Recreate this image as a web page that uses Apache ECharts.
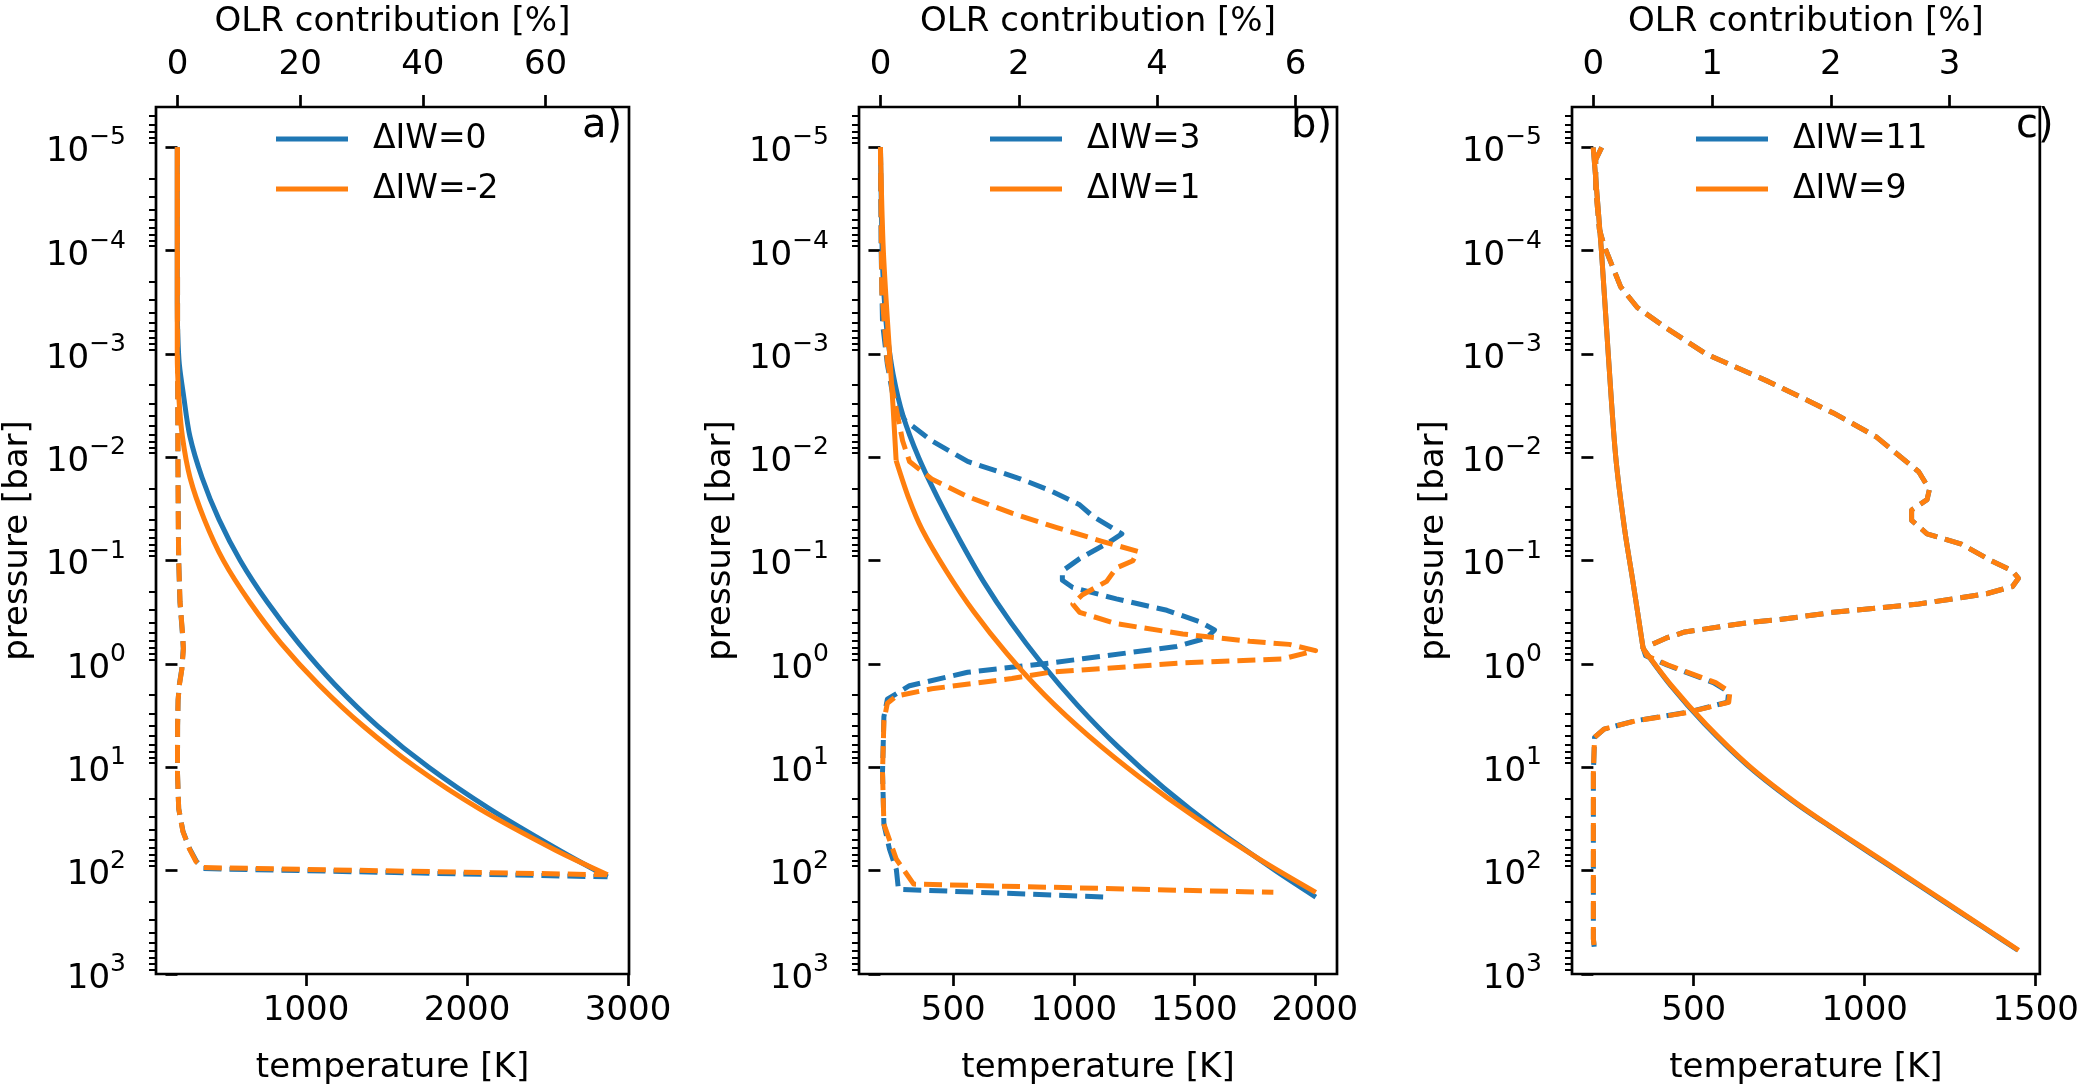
<!DOCTYPE html>
<html><head><meta charset="utf-8">
<script src="https://cdn.jsdelivr.net/npm/echarts@6/dist/echarts.min.js"></script>
<style>html,body{margin:0;padding:0;background:#fff}#c{width:2082px;height:1090px}</style>
</head><body><div id="c"></div>
<script>
const FONT = 'DejaVu Sans';
const BLUE = '#1f77b4', ORANGE = '#ff7f0e';

// ---------- tick labels ----------
const pTicks = [1e-5,1e-4,1e-3,1e-2,1e-1,1,10,100,1000];
const aTempTicks = [1000,2000,3000];
const aOlrTicks = [0,20,40,60];
const bTempTicks = [500,1000,1500,2000];
const bOlrTicks = [0,2,4,6];
const cTempTicks = [500,1000,1500];
const cOlrTicks = [0,1,2,3];

// ---------- panel a ----------
const aNames = ['ΔIW=0','ΔIW=-2'];
const aT_blue_P = [1e-5,3.162e-4,6.31e-4,1.259e-3,2.512e-3,6.31e-3,1.585e-2,3.981e-2,0.1,0.2512,0.631,1.585,3.981,10,25.12,63.1,114.8];
const aT_blue   = [200,200,203,213,239,279,355,459,592,759,955,1180,1445,1762,2138,2570,2873];
const aT_orange_P = [1e-5,1e-3,2.512e-3,6.31e-3,1.585e-2,3.981e-2,0.1,0.2512,0.631,1.585,3.981,10,25.12,63.1,109.6];
const aT_orange   = [200,200,209,232,280,368,487,650,845,1080,1355,1682,2075,2547,2873];
const aO_blue_P = [1e-5,1e-3,1e-2,5.012e-2,0.1,0.2512,0.5012,0.7079,1.122,1.585,2.239,3.981,11.22,25.12,41.69,61.66,81.28,95.5,114.8];
const aO_blue   = [0,0.02,0.08,0.15,0.2,0.4,0.8,0.95,0.7,0.3,0.1,0.02,0,0.2,0.9,2.0,3.1,4.2,70.1];
const aO_orange_P = [1e-5,1e-3,1e-2,5.012e-2,0.1,0.2512,0.5012,0.7079,1.122,1.585,2.239,3.981,11.22,25.12,41.69,61.66,81.28,93.3,109.6];
const aO_orange   = [0,0.02,0.07,0.14,0.2,0.42,0.82,0.97,0.72,0.32,0.1,0.02,0,0.2,0.88,1.95,3.0,4.1,70.0];

// ---------- panel b ----------
const bNames = ['ΔIW=3','ΔIW=1'];
const bT_blue_P = [1e-5,1e-4,2.512e-4,6.31e-4,1.585e-3,3.981e-3,1e-2,2.512e-2,6.31e-2,0.1585,0.3981,1,2.512,6.31,15.85,39.81,100,180];
const bT_blue   = [198,205,212,226,251,292,356,437,527,625,739,869,1016,1183,1374,1592,1837,2004];
const bT_orange_P = [1e-5,1e-4,1e-3,3.162e-3,1.072e-2,2.512e-2,5.012e-2,0.1259,0.3162,0.7943,1.995,5.012,12.59,31.62,79.43,162.2];
const bT_orange   = [198,210,236,250,263,316,371,471,587,723,879,1064,1276,1514,1778,2004];
const bT_orange_kink = 4;   // index of the sharp corner (tropopause)
const bO_blue_P = [1e-5,1e-4,5.012e-4,1.259e-3,2.512e-3,4.365e-3,6.918e-3,1.096e-2,1.622e-2,2.089e-2,2.884e-2,3.715e-2,5.495e-2,6.607e-2,9.55e-2,0.1259,0.1549,0.182,0.2344,0.302,0.389,0.4677,0.5623,0.6761,0.7762,0.8913,0.9772,1.202,1.622,2.188,3.236,11.22,35.48,61.66,97.72,151.4,180];
const bO_blue   = [0,0.01,0.03,0.1,0.18,0.35,0.74,1.26,2.03,2.45,2.88,3.07,3.49,3.31,2.88,2.63,2.63,2.78,3.41,4.14,4.61,4.83,4.71,4.28,3.6,2.92,2.45,1.26,0.42,0.1,0.05,0.03,0.05,0.13,0.23,0.26,3.26];
const bO_orange_P = [1e-5,2.512e-4,1.175e-3,2.512e-3,6.918e-3,1.096e-2,1.622e-2,2.399e-2,3.467e-2,4.786e-2,6.457e-2,8.128e-2,0.1,0.1175,0.1585,0.2138,0.263,0.3162,0.4074,0.5129,0.6026,0.6457,0.7413,0.8913,0.9772,1.202,1.38,1.738,2.042,2.399,3.548,11.22,35.48,77.62,134.9,162.2];
const bO_orange   = [0,0.02,0.1,0.19,0.32,0.42,0.74,1.26,1.9,2.55,3.19,3.72,3.65,3.41,3.27,2.92,2.78,2.88,3.41,4.37,5.34,5.91,6.29,5.82,4.37,2.45,1.9,0.74,0.23,0.1,0.05,0.03,0.05,0.23,0.48,5.68];

// ---------- panel c ----------
const cNames = ['ΔIW=11','ΔIW=9'];
const cT_P = [1e-5,1e-4,1e-3,1e-2,5.012e-2,0.1585,0.7079,1.622,3.802,9.55,20.89,38.9,66.07,114.8,199.5,354.8,588.8];
const cT_blue   = [206,230,250,272,298,322,352,433,532,657,787,906,1011,1121,1231,1347,1448];
const cT_orange = [206,230,250,272,298,322,352,435,535,660,790,908,1014,1124,1234,1349,1450];
const cT_kink = 6;
const cO_P = [1e-5,1.318e-5,2.512e-5,6.166e-5,8.913e-5,2.239e-4,3.548e-4,5.37e-4,1e-3,1.862e-3,3.715e-3,6.31e-3,1.38e-2,2.042e-2,2.57e-2,3.236e-2,4.074e-2,5.495e-2,6.918e-2,0.1,0.1259,0.1479,0.1778,0.2089,0.263,0.3162,0.3715,0.3981,0.4898,0.5623,0.7079,0.8318,1.023,1.514,1.862,2.344,2.951,3.548,4.266,5.129,11.22,457.1,588.8];
const cO_blue   = [0.07,0.02,0.02,0.05,0.09,0.23,0.37,0.59,0.95,1.48,2.02,2.38,2.74,2.83,2.81,2.68,2.68,2.81,3.1,3.35,3.53,3.58,3.53,3.31,2.74,2.02,1.57,1.3,0.77,0.61,0.42,0.44,0.62,1.01,1.14,1.13,0.78,0.35,0.09,0.01,0,0,0.01];
const cO_orange = [0.07,0.02,0.02,0.05,0.09,0.23,0.37,0.59,0.95,1.48,2.02,2.38,2.74,2.83,2.81,2.68,2.68,2.81,3.1,3.35,3.53,3.58,3.53,3.31,2.74,2.02,1.57,1.3,0.77,0.61,0.42,0.45,0.63,1.03,1.15,1.14,0.79,0.36,0.09,0.01,0,0,0.01];

// ---------- layout ----------
const PMIN = 4.07e-6, PMAX = 1000;
const panels = [
  {left:152, width:477, tRange:[68,3006], oRange:[-3.5,73.6], tTicks:aTempTicks, oTicks:aOlrTicks, letter:'a)', letterLeft:582, legendLeft:276, names:aNames},
  {left:859, width:478, tRange:[109,2092], oRange:[-0.31,6.6], tTicks:bTempTicks, oTicks:bOlrTicks, letter:'b)', letterLeft:1291, legendLeft:990, names:bNames},
  {left:1572, width:491, tRange:[144,1512], oRange:[-0.18,3.76], tTicks:cTempTicks, oTicks:cOlrTicks, letter:'c)', letterLeft:2016, legendLeft:1696, names:cNames}
];
const TOP = 96, HEIGHT = 891;

const minorTicks = [];
for (let e = -6; e <= 2; e++) for (let m = 2; m <= 9; m++) { const v = m * Math.pow(10, e); if (v >= PMIN && v <= PMAX) minorTicks.push(v); }

const txt = {fontFamily: FONT, color: '#000'};
const zip = (xs, ps) => xs.map((x, i) => [x, ps[i]]);

const grid = [], xAxis = [], yAxis = [], legend = [], title = [], series = [];
panels.forEach((p, i) => {
  grid.push({left: p.left, top: TOP, width: p.width, height: HEIGHT, show: true, borderColor: '#000', borderWidth: 2.7, backgroundColor: 'transparent', containLabel: false});
  xAxis.push({
    type: 'value', gridIndex: i, position: 'bottom', min: p.tRange[0], max: p.tRange[1],
    axisLine: {show: false}, splitLine: {show: false},
    axisTick: {customValues: p.tTicks, length: 12, lineStyle: {color: '#000', width: 2.7}},
    axisLabel: Object.assign({customValues: p.tTicks, margin: 20, fontSize: 34, lineHeight: 34, formatter: v => String(v)}, txt),
    name: 'temperature [K]', nameLocation: 'middle', nameGap: 77,
    nameTextStyle: Object.assign({fontSize: 34, lineHeight: 34}, txt)
  });
  xAxis.push({
    type: 'value', gridIndex: i, position: 'top', min: p.oRange[0], max: p.oRange[1],
    axisLine: {show: false}, splitLine: {show: false},
    axisTick: {customValues: p.oTicks, length: 12, lineStyle: {color: '#000', width: 2.7}},
    axisLabel: Object.assign({customValues: p.oTicks, margin: 25, fontSize: 34, lineHeight: 34, formatter: v => String(v)}, txt),
    name: 'OLR contribution [%]', nameLocation: 'middle', nameGap: 68,
    nameTextStyle: Object.assign({fontSize: 34, lineHeight: 34}, txt)
  });
  yAxis.push({
    type: 'log', gridIndex: i, position: 'left', inverse: true, min: PMIN, max: PMAX,
    axisLine: {show: false}, splitLine: {show: false}, minorTick: {show: false},
    axisTick: {customValues: pTicks, length: 12, lineStyle: {color: '#000', width: 2.7}},
    axisLabel: {
      customValues: pTicks, margin: 30,
      formatter: v => { const e = Math.round(Math.log10(v)); return '{b|10}{s|' + (e < 0 ? '\u2212' : '') + Math.abs(e) + '}'; },
      rich: {
        b: {fontSize: 34, fontFamily: FONT, color: '#000', lineHeight: 44, verticalAlign: 'bottom'},
        s: {fontSize: 25, fontFamily: FONT, color: '#000', lineHeight: 22, verticalAlign: 'top'}
      }
    },
    name: 'pressure [bar]', nameLocation: 'middle', nameRotate: 90, nameGap: 121,
    nameTextStyle: Object.assign({fontSize: 34, lineHeight: 34}, txt)
  });
  yAxis.push({
    type: 'log', gridIndex: i, position: 'left', inverse: true, min: PMIN, max: PMAX,
    axisLine: {show: false}, splitLine: {show: false}, axisLabel: {show: false},
    axisTick: {customValues: minorTicks, length: 7, lineStyle: {color: '#000', width: 2}}
  });
  legend.push({
    orient: 'vertical', left: p.legendLeft, top: 122, padding: 0, itemGap: 16,
    itemWidth: 72, itemHeight: 5, icon: 'rect', itemStyle: {borderWidth: 0},
    data: p.names, selectedMode: false,
    textStyle: Object.assign({fontSize: 33, lineHeight: 34, padding: [0, 0, 0, 20]}, txt)
  });
  title.push({text: p.letter, left: p.letterLeft, top: 107, padding: 0,
    textStyle: Object.assign({fontSize: 40, fontWeight: 'normal', lineHeight: 40}, txt)});
});

function line(name, data, color, dashed, xi, yi, smooth) {
  return {
    type: 'line', name, data, xAxisIndex: xi, yAxisIndex: yi,
    symbol: 'none', silent: true, animation: false, itemStyle: {color},
    smooth: smooth || false,
    lineStyle: {color, width: 5, type: dashed ? [18, 8] : 'solid', cap: 'butt', join: 'round'}
  };
}
// a temperature profile with a sharp tropopause corner: two smoothed pieces meeting at the corner
function profile(name, xs, ps, kink, color, xi, yi) {
  const d = zip(xs, ps);
  if (kink == null) return [line(name, d, color, false, xi, yi, 0.3)];
  return [line(name, d.slice(0, kink + 1), color, false, xi, yi, 0.3),
          line(name, d.slice(kink), color, false, xi, yi, 0.3)];
}

series.push(
  ...profile(aNames[0], aT_blue, aT_blue_P, null, BLUE, 0, 0),
  line(aNames[0] + ' OLR', zip(aO_blue, aO_blue_P), BLUE, true, 1, 0),
  ...profile(aNames[1], aT_orange, aT_orange_P, null, ORANGE, 0, 0),
  line(aNames[1] + ' OLR', zip(aO_orange, aO_orange_P), ORANGE, true, 1, 0),

  ...profile(bNames[0], bT_blue, bT_blue_P, null, BLUE, 2, 2),
  line(bNames[0] + ' OLR', zip(bO_blue, bO_blue_P), BLUE, true, 3, 2),
  ...profile(bNames[1], bT_orange, bT_orange_P, bT_orange_kink, ORANGE, 2, 2),
  line(bNames[1] + ' OLR', zip(bO_orange, bO_orange_P), ORANGE, true, 3, 2),

  ...profile(cNames[0], cT_blue, cT_P, cT_kink, BLUE, 4, 4),
  line(cNames[0] + ' OLR', zip(cO_blue, cO_P), BLUE, true, 5, 4),
  ...profile(cNames[1], cT_orange, cT_P, cT_kink, ORANGE, 4, 4),
  line(cNames[1] + ' OLR', zip(cO_orange, cO_P), ORANGE, true, 5, 4)
);

const chart = echarts.init(document.getElementById('c'), null, {renderer: 'canvas'});
chart.setOption({animation: false, backgroundColor: '#fff', grid, xAxis, yAxis, legend, title, series, tooltip: {show: false}});
</script>
</body></html>
